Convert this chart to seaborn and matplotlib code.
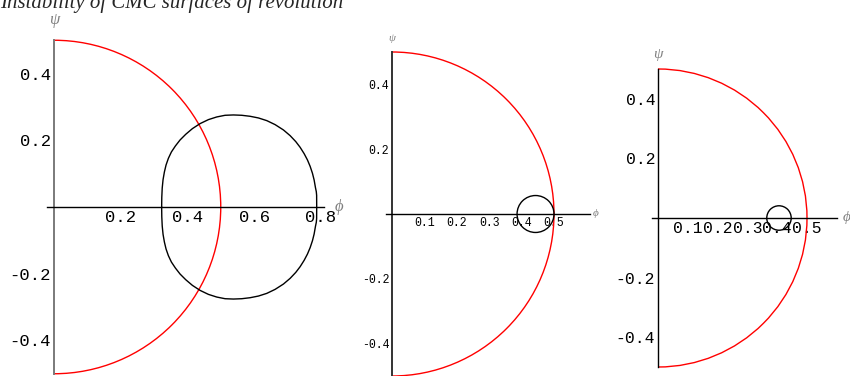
import numpy as np
import pandas as pd
import matplotlib
matplotlib.use("Agg")
import matplotlib.pyplot as plt
from matplotlib.patches import Arc, Circle
from matplotlib.ticker import FixedLocator, FuncFormatter
import seaborn as sns

# red reference semicircle (radius) shared by all panels
semi_radius = 0.5

# panel 1: closed black curve, upper half (left -> right)
curve_phi_top = [0.3228, 0.3232, 0.3245, 0.3270, 0.3310, 0.3360, 0.3430, 0.3520, 0.3640,
                 0.3780, 0.3950, 0.4150, 0.4380, 0.4630, 0.4880, 0.5130, 0.5380,
                 0.5630, 0.5880, 0.6130, 0.6380, 0.6630, 0.6880, 0.7080, 0.7250,
                 0.7380, 0.7500, 0.7600, 0.7680, 0.7750, 0.7800, 0.7840, 0.7865,
                 0.7875, 0.7877]
curve_psi_top = [0.000, 0.029, 0.057, 0.082, 0.105, 0.126, 0.146, 0.165, 0.183,
                 0.201, 0.218, 0.235, 0.250, 0.262, 0.270, 0.275, 0.276,
                 0.275, 0.272, 0.267, 0.259, 0.247, 0.231, 0.214, 0.196,
                 0.179, 0.160, 0.141, 0.122, 0.101, 0.081, 0.058, 0.046,
                 0.035, 0.000]

# panels 2 and 3: small black circles (center phi, radius)
circle_centers = [0.443, 0.406]
circle_radii = [0.057, 0.041]

# tick values
xticks_1 = [0.2, 0.4, 0.6, 0.8]
xticks_23 = [0.1, 0.2, 0.3, 0.4, 0.5]
yticks = [-0.4, -0.2, 0.2, 0.4]

title = "Instability of CMC surfaces of revolution"

W, H = 850, 376
sns.set_style("white")
plt.rcParams["font.family"] = ["Liberation Mono", "DejaVu Sans"]
fig = plt.figure(figsize=(W / 100, H / 100), dpi=100)


def place(ox, oy, s, xlim, ylim):
    left = (ox + xlim[0] * s) / W
    width = (xlim[1] - xlim[0]) * s / W
    bottom = (H - (oy - ylim[0] * s)) / H
    height = (ylim[1] - ylim[0]) * s / H
    ax = fig.add_axes([left, bottom, width, height])
    ax.set_xlim(xlim)
    ax.set_ylim(ylim)
    ax.set_facecolor("none")
    return ax


def style_axes(ax, xt, xminor, xbound, fs, yaxis_color, psi_y, phi_x, lab_fs):
    for side in ["top", "right"]:
        ax.spines[side].set_visible(False)
    ax.spines["left"].set_position("zero")
    ax.spines["bottom"].set_position("zero")
    ax.spines["left"].set_bounds(-0.5, 0.5)
    ax.spines["bottom"].set_bounds(xbound[0], xbound[1])
    ax.spines["left"].set_color(yaxis_color)
    ax.spines["left"].set_linewidth(1.4 if yaxis_color != "black" else 1.0)
    ax.spines["bottom"].set_color("black")
    ax.spines["bottom"].set_linewidth(1.0)
    ax.xaxis.set_major_locator(FixedLocator(xt))
    ax.xaxis.set_minor_locator(FixedLocator(np.round(np.arange(xminor, xbound[1] - 1e-9, xminor), 3)))
    ax.yaxis.set_major_locator(FixedLocator(yticks))
    ax.yaxis.set_minor_locator(FixedLocator(np.round(np.arange(-0.45, 0.46, 0.05), 3)))
    fmt = FuncFormatter(lambda v, p: f"{v:.1f}")
    ax.xaxis.set_major_formatter(fmt)
    ax.yaxis.set_major_formatter(fmt)
    ax.tick_params(which="both", direction="in", width=0.8, colors="black", labelsize=fs, pad=2)
    ax.tick_params(which="major", length=4)
    ax.tick_params(which="minor", length=2.5)
    ax.tick_params(axis="y", which="both", color=yaxis_color)
    ax.text(0, psi_y, "ψ", ha="center", va="bottom", color="#808080",
            fontsize=lab_fs, family=["Liberation Serif", "DejaVu Serif"], style="italic")
    ax.text(phi_x, 0, "ϕ", ha="left", va="center", color="#808080",
            fontsize=lab_fs, family=["Liberation Serif", "DejaVu Serif"], style="italic")


# panel 1
ax1 = place(54, 207, 333.5, (-0.16, 0.9), (-0.52, 0.63))
ax1.add_patch(Arc((0, 0), 2 * semi_radius, 2 * semi_radius, theta1=-90, theta2=90,
                  color="red", lw=1.0))
curve = pd.DataFrame({
    "phi": curve_phi_top + curve_phi_top[::-1],
    "psi": curve_psi_top + [-v for v in curve_psi_top[::-1]],
})
sns.lineplot(data=curve, x="phi", y="psi", sort=False, estimator=None,
             color="black", lw=1.0, ax=ax1)
ax1.set_xlabel("")
ax1.set_ylabel("")
style_axes(ax1, xticks_1, 0.05, (-0.02, 0.81), 12.4, "#7a7a7a", 0.536, 0.842, 12)

# panel 2
ax2 = place(392, 214, 324, (-0.1, 0.7), (-0.5, 0.62))
ax2.add_patch(Arc((0, 0), 2 * semi_radius, 2 * semi_radius, theta1=-90, theta2=90,
                  color="red", lw=1.0))
ax2.add_patch(Circle((circle_centers[0], 0), circle_radii[0], fill=False, ec="black", lw=1.0))
style_axes(ax2, xticks_23, 0.02, (-0.02, 0.61), 8.3, "#333333", 0.527, 0.62, 8)

# panel 3
ax3 = place(658, 218, 298, (-0.1, 0.66), (-0.55, 0.65))
ax3.add_patch(Arc((0, 0), 2 * semi_radius, 2 * semi_radius, theta1=-90, theta2=90,
                  color="red", lw=1.0))
ax3.add_patch(Circle((circle_centers[1], 0), circle_radii[1], fill=False, ec="black", lw=1.0))
style_axes(ax3, xticks_23, 0.02, (-0.02, 0.60), 11.8, "black", 0.528, 0.62, 11)

fig.text(0.0, 1 - 8 / H, title, ha="left", va="baseline", fontsize=15,
         family=["Liberation Serif", "DejaVu Serif"], style="italic")

fig.savefig("out.png", dpi=100)
